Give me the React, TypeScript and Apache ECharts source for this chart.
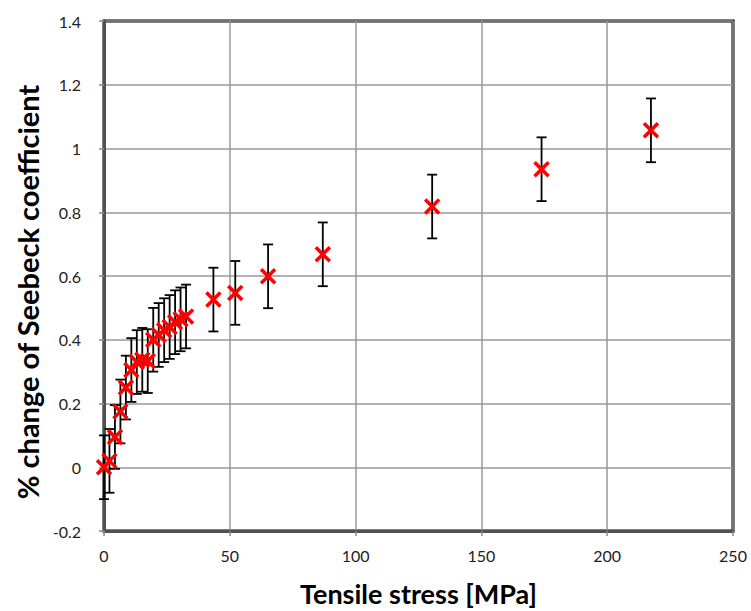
import React, { useEffect, useRef } from "react";
import * as echarts from "echarts";

const stress = [0, 2.17, 4.35, 6.52, 8.7, 10.87, 13.04, 15.22, 17.39, 19.57, 21.74, 23.91, 26.09, 28.26, 30.43, 32.61, 43.48, 52.17, 65.22, 86.96, 130.43, 173.91, 217.39];
const change = [0.0, 0.02, 0.095, 0.175, 0.25, 0.305, 0.33, 0.337, 0.333, 0.4, 0.415, 0.43, 0.44, 0.455, 0.464, 0.473, 0.526, 0.547, 0.599, 0.668, 0.818, 0.935, 1.057];
const errors = [0.1, 0.1, 0.1, 0.1, 0.1, 0.1, 0.1, 0.1, 0.1, 0.1, 0.1, 0.1, 0.1, 0.1, 0.1, 0.1, 0.1, 0.1, 0.1, 0.1, 0.1, 0.1, 0.1];

const xTitle = "Tensile stress [MPa]";
const yTitle = "% change of Seebeck coefficient";

const FONT = "Lato";

export default function App() {
  const ref = useRef<HTMLDivElement>(null);
  useEffect(() => {
    if (!ref.current) return;
    const chart = echarts.init(ref.current, null, { renderer: "svg" });
    const data = stress.map((x, i) => [x, change[i], errors[i]]);
    chart.setOption({
      animation: false,
      backgroundColor: "#ffffff",
      grid: {
        left: 104,
        right: 18,
        top: 21,
        bottom: 80,
        containLabel: false,
        outerBoundsMode: "none",
        show: true,
        borderColor: "#000000",
        borderWidth: 3,
      },
      xAxis: {
        type: "value",
        min: 0,
        max: 250,
        interval: 50,
        name: xTitle,
        nameLocation: "middle",
        nameGap: 49,
        nameTextStyle: { fontFamily: FONT, fontWeight: "bold", fontSize: 27, lineHeight: 27, color: "#000" },
        axisLine: { show: true, onZero: false, lineStyle: { color: "#505050", width: 3 } },
        axisTick: { show: true, length: 5, lineStyle: { color: "#8a8a8a", width: 1.5 } },
        axisLabel: { fontFamily: FONT, fontSize: 16, color: "#222", margin: 16 },
        splitLine: { show: true, lineStyle: { color: "#999999", width: 1.5 } },
      },
      yAxis: {
        type: "value",
        min: -0.2,
        max: 1.4,
        interval: 0.2,
        name: yTitle,
        nameLocation: "middle",
        nameGap: 52,
        nameTextStyle: {
          fontFamily: FONT,
          fontWeight: "bold",
          fontSize: 29,
          color: "#000",
          padding: [0, 32, 0, 0],
        },
        axisLine: { show: true, onZero: false, lineStyle: { color: "#505050", width: 3 } },
        axisTick: { show: true, length: 5, lineStyle: { color: "#8a8a8a", width: 1.5 } },
        axisLabel: {
          fontFamily: FONT,
          fontSize: 16,
          color: "#222",
          margin: 23,
          formatter: (v: number) => String(Math.round(v * 10) / 10),
        },
        splitLine: { show: true, lineStyle: { color: "#999999", width: 1.5 } },
      },
      series: [
        {
          type: "custom",
          name: "error",
          z: 2,
          data,
          encode: { x: 0, y: 1 },
          renderItem: (params: any, api: any) => {
            const x = api.value(0);
            const y = api.value(1);
            const e = api.value(2);
            const top = api.coord([x, y + e]);
            const bot = api.coord([x, y - e]);
            const hw = 5;
            const style = { stroke: "#000000", lineWidth: 1.8 };
            return {
              type: "group",
              children: [
                { type: "line", shape: { x1: top[0], y1: top[1], x2: bot[0], y2: bot[1] }, style },
                { type: "line", shape: { x1: top[0] - hw, y1: top[1], x2: top[0] + hw, y2: top[1] }, style },
                { type: "line", shape: { x1: bot[0] - hw, y1: bot[1], x2: bot[0] + hw, y2: bot[1] }, style },
              ],
            };
          },
        },
        {
          type: "custom",
          name: "points",
          z: 3,
          data,
          encode: { x: 0, y: 1 },
          renderItem: (params: any, api: any) => {
            const c = api.coord([api.value(0), api.value(1)]);
            const r = 7;
            const style = { stroke: "#ff0000", lineWidth: 3.5 };
            return {
              type: "group",
              children: [
                { type: "line", shape: { x1: c[0] - r, y1: c[1] - r, x2: c[0] + r, y2: c[1] + r }, style },
                { type: "line", shape: { x1: c[0] - r, y1: c[1] + r, x2: c[0] + r, y2: c[1] - r }, style },
              ],
            };
          },
        },
      ],
    });
    return () => chart.dispose();
  }, []);
  return <div ref={ref} style={{ width: 751, height: 611, position: "absolute", left: 0, top: 0 }} />;
}
